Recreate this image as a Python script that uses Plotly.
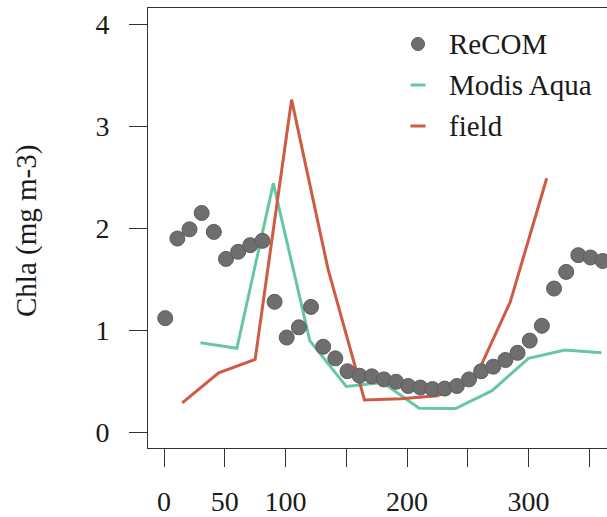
import plotly.graph_objects as go

# ReCOM model output (every 10 days)
recom_day = [1, 11, 21, 31, 41, 51, 61, 71, 81, 91, 101, 111, 121, 131, 141, 151,
             161, 171, 181, 191, 201, 211, 221, 231, 241, 251, 261, 271, 281, 291,
             301, 311, 321, 331, 341, 351, 361]
recom_chla = [1.12, 1.90, 1.99, 2.15, 1.965, 1.70, 1.77, 1.835, 1.877, 1.28, 0.93,
              1.03, 1.23, 0.84, 0.726, 0.60, 0.556, 0.55, 0.52, 0.497, 0.455, 0.44,
              0.425, 0.43, 0.455, 0.52, 0.60, 0.645, 0.71, 0.78, 0.90, 1.045, 1.41,
              1.573, 1.737, 1.714, 1.68]

# Modis Aqua satellite chlorophyll (monthly)
modis_day = [30, 60, 90, 120, 150, 180, 210, 240, 270, 300, 330, 360]
modis_chla = [0.88, 0.825, 2.44, 0.90, 0.45, 0.49, 0.237, 0.235, 0.41, 0.726, 0.807, 0.78]

# Field measurements (monthly)
field_day = [15, 45, 75, 105, 135, 165, 195, 225, 255, 285, 315]
field_chla = [0.29, 0.585, 0.716, 3.26, 1.60, 0.318, 0.33, 0.36, 0.50, 1.28, 2.49]

x_ticks = [0, 50, 100, 150, 200, 250, 300, 350]
x_tick_labels = ["0", "50", "100", "", "200", "", "300", ""]
y_ticks = [0, 1, 2, 3, 4]
y_tick_labels = ["0", "1", "2", "3", "4"]

legend_names = ["ReCOM", "Modis Aqua", "field"]

GREY = "#6e6e6e"
GREEN = "#66c6a6"
RED = "#cf5a45"
AXIS = "#333333"
TEXT = "#1a1a1a"
FONT = '"Liberation Serif", "Times New Roman", serif'
FS = 29
TICK_FS = 28

W, H = 607, 517
ML, MR, MT, MB = 148, 0, 8, 69
PW, PH = W - ML - MR, H - MT - MB


def px(xp):
    return (xp - ML) / PW


def py(yp):
    return (H - MB - yp) / PH


fig = go.Figure()
fig.add_trace(go.Scatter(x=modis_day, y=modis_chla, mode="lines",
                         line=dict(color=GREEN, width=3), name=legend_names[1]))
fig.add_trace(go.Scatter(x=field_day, y=field_chla, mode="lines",
                         line=dict(color=RED, width=3), name=legend_names[2]))
fig.add_trace(go.Scatter(x=recom_day, y=recom_chla, mode="markers",
                         marker=dict(color=GREY, size=15,
                                     line=dict(color="#5c5c5c", width=1)),
                         name=legend_names[0]))

# hand-drawn legend in the upper right
shapes = []
annotations = []
rows = [44, 85, 126]
sym_x = 418
shapes.append(dict(type="circle", xref="paper", yref="paper",
                   x0=px(sym_x - 6.5), x1=px(sym_x + 6.5),
                   y0=py(rows[0] + 6.5), y1=py(rows[0] - 6.5),
                   fillcolor=GREY, line=dict(color="#5c5c5c", width=1)))
for r, c in zip(rows[1:], [GREEN, RED]):
    shapes.append(dict(type="line", xref="paper", yref="paper",
                       x0=px(sym_x - 7.5), x1=px(sym_x + 7.5),
                       y0=py(r), y1=py(r), line=dict(color=c, width=3)))
for r, name in zip(rows, legend_names):
    annotations.append(dict(text=name, xref="paper", yref="paper",
                            x=px(447), y=py(r), xanchor="left", yanchor="middle",
                            showarrow=False, font=dict(family=FONT, size=FS, color=TEXT)))

annotations.append(dict(text="Chla (mg m-3)", xref="paper", yref="paper",
                        x=px(26), y=py(231), xanchor="center", yanchor="middle",
                        textangle=-90, showarrow=False,
                        font=dict(family=FONT, size=FS, color=TEXT)))

fig.update_layout(
    width=W, height=H,
    margin=dict(l=ML, r=MR, t=MT, b=MB, pad=0, autoexpand=False),
    paper_bgcolor="white", plot_bgcolor="white",
    showlegend=False,
    font=dict(family=FONT, size=TICK_FS, color=TEXT),
    shapes=shapes, annotations=annotations,
)
fig.update_xaxes(range=[-13.17, 364.6], tickvals=x_ticks, ticktext=x_tick_labels,
                 ticks="outside", ticklen=18, tickwidth=1, tickcolor=AXIS,
                 showline=True, linecolor=AXIS, linewidth=1, mirror=True,
                 showgrid=False, zeroline=False, ticklabelstandoff=10,
                 automargin=False)
fig.update_yaxes(range=[-0.152, 4.158], tickvals=y_ticks, ticktext=y_tick_labels,
                 ticks="outside", ticklen=18, tickwidth=1, tickcolor=AXIS,
                 showline=True, linecolor=AXIS, linewidth=1, mirror=False,
                 showgrid=False, zeroline=False, ticklabelstandoff=14,
                 automargin=False)

fig.write_html("out.html")
